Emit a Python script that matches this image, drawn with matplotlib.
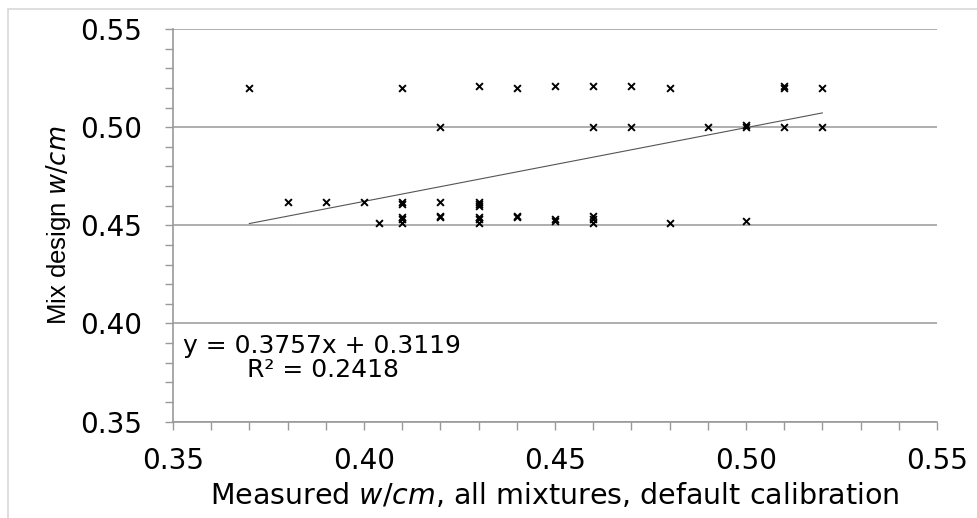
import matplotlib
matplotlib.use('Agg')
import matplotlib.pyplot as plt
from matplotlib.ticker import MultipleLocator, FormatStrFormatter
from matplotlib.patches import Rectangle

plt.rcParams['font.family'] = ['DejaVu Sans']

# measured w/cm (x) vs mix design w/cm (y), duplicates kept
measured = [0.37, 0.41, 0.43, 0.44, 0.45, 0.46, 0.47, 0.48, 0.51, 0.51, 0.52,
            0.42, 0.46, 0.47, 0.49, 0.50, 0.50, 0.51, 0.52,
            0.38, 0.39, 0.40, 0.41, 0.41, 0.42, 0.43, 0.43, 0.43,
            0.41, 0.41, 0.42, 0.42, 0.43, 0.43, 0.44, 0.44, 0.46,
            0.404, 0.41, 0.43, 0.45, 0.45, 0.46, 0.46, 0.48, 0.50]
design = [0.520, 0.520, 0.521, 0.520, 0.521, 0.521, 0.521, 0.520, 0.520, 0.521, 0.520,
          0.500, 0.500, 0.500, 0.500, 0.500, 0.501, 0.500, 0.500,
          0.462, 0.462, 0.462, 0.462, 0.461, 0.462, 0.462, 0.461, 0.460,
          0.454, 0.453, 0.454, 0.455, 0.454, 0.453, 0.455, 0.454, 0.455,
          0.451, 0.451, 0.451, 0.452, 0.453, 0.453, 0.451, 0.451, 0.452]

slope = 0.3757
intercept = 0.3119
fit_x = [0.37, 0.52]

fig = plt.figure(figsize=(9.77, 5.18), dpi=100)
ax = fig.add_axes([0.177, 0.186, 0.782, 0.758])

# thin grey frame round the picture (only top/left edges show)
fig.patches.append(Rectangle((0.008, -0.05), 1.05, 1.033, transform=fig.transFigure,
                             fill=False, edgecolor='#d8d8d8', linewidth=1.2))

ax.scatter(measured, design, marker='x', s=24, color='black', linewidths=1.4, zorder=3)
ax.plot(fit_x, [slope * v + intercept for v in fit_x], color='#555555', linewidth=0.8, zorder=2)

ax.set_xlim(0.35, 0.55)
ax.set_ylim(0.35, 0.55)
ax.xaxis.set_major_locator(MultipleLocator(0.05))
ax.xaxis.set_minor_locator(MultipleLocator(0.01))
ax.yaxis.set_major_locator(MultipleLocator(0.05))
ax.yaxis.set_minor_locator(MultipleLocator(0.01))
ax.xaxis.set_major_formatter(FormatStrFormatter('%.2f'))
ax.yaxis.set_major_formatter(FormatStrFormatter('%.2f'))

ax.yaxis.grid(True, which='major', color='#999999', linewidth=1.1)
ax.set_axisbelow(True)
for s in ['top', 'right']:
    ax.spines[s].set_visible(False)
for s in ['left', 'bottom']:
    ax.spines[s].set_color('#999999')
    ax.spines[s].set_linewidth(1.2)

ax.tick_params(which='both', direction='out', length=5.5, color='#999999', width=1.0)
ax.tick_params(axis='y', which='major', labelsize=20, pad=17)
ax.tick_params(axis='x', which='major', labelsize=20, pad=13)

ax.set_xlabel('Measured $\\it{w/cm}$, all mixtures, default calibration', fontsize=20.5, labelpad=4)
ax.set_ylabel('Mix design $\\it{w/cm}$', fontsize=18.5, family=['Liberation Sans', 'DejaVu Sans'],
              labelpad=5)

ax.text(0.3526, 0.3887, 'y = 0.3757x + 0.3119', fontsize=18, va='center', ha='left')
ax.text(0.3694, 0.3765, 'R² = 0.2418', fontsize=18, va='center', ha='left')

fig.savefig('out.png', dpi=100)
